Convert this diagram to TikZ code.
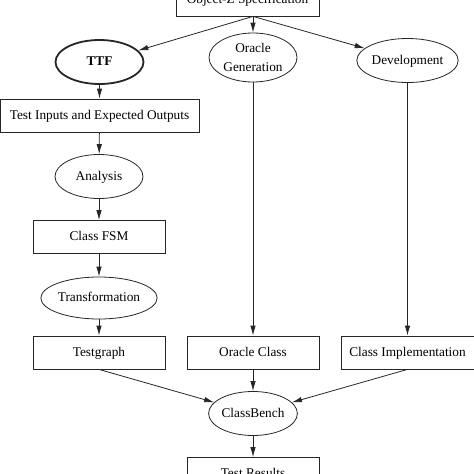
\documentclass[tikz,border=0pt]{standalone}
\usepackage{fontspec}
\setmainfont{Liberation Serif}
\usetikzlibrary{shapes.geometric, arrows.meta, positioning}

\begin{document}
\begin{tikzpicture}[x=1pt, y=-1pt,
        >={Latex[length=10pt, width=5.5pt]},
        every node/.style={font=\fontsize{13.3}{18.5}\selectfont, inner sep=0pt, draw=black!85, line width=0.8pt, text height=8.5pt, text depth=0.7pt},
        box/.style={rectangle, minimum width=132pt, minimum height=33pt},
        oval/.style={ellipse, minimum width=88pt, minimum height=44pt},
        link/.style={->, line width=0.8pt, draw=black!85}]
        % Marco de la imagen (recorta las cajas de arriba y de abajo)
        \useasboundingbox (0,0) rectangle (474,474);
        \clip (0,0) rectangle (474,474);

        % Especificacion de partida
        \node[box, minimum width=143pt] (spec) at (247.5,-0.5) {Object-Z Specification};

        % Tres ramas
        \node[oval, line width=1.8pt] (ttf) at (99.5,62) {\textbf{TTF}};
        \node[oval, minimum height=49pt, align=center, text height=, text depth=] (oracle) at (253,57.5) {Oracle\\Generation};
        \node[oval] (devel) at (407.5,60.5) {Development};

        % Rama de la izquierda
        \node[box, minimum width=199pt] (inputs) at (99.5,115.5) {Test Inputs and Expected Outputs};
        \node[oval] (analysis) at (99,176.5) {Analysis};
        \node[box] (fsm) at (99,237) {Class FSM};
        \node[oval, minimum width=100pt, minimum height=42pt] (transf) at (99,298) {Transformation};
        \node[box] (graph) at (99,352.5) {Testgraph};

        % Ramas del medio y de la derecha
        \node[box] (oclass) at (253,352.5) {Oracle Class};
        \node[box, minimum width=133pt] (impl) at (407.5,352.5) {Class Implementation};

        % Banco de pruebas y resultados
        \node[oval] (bench) at (253,413.5) {ClassBench};
        \node[box] (results) at (253,474) {Test Results};

        % Flechas
        \draw[link] (spec.south -| oracle) -- (ttf);
        \draw[link] (spec.south -| oracle) -- (oracle);
        \draw[link] (spec.south -| oracle) -- (devel);
        \draw[link] (ttf) -- (inputs);
        \draw[link] (inputs) -- (analysis);
        \draw[link] (analysis) -- (fsm);
        \draw[link] (fsm) -- (transf);
        \draw[link] (transf) -- (graph);
        \draw[link] (oracle) -- (oclass);
        \draw[link] (devel) -- (impl);
        \draw[link] (graph.south) -- (bench);
        \draw[link] (oclass) -- (bench);
        \draw[link] (impl.south) -- (bench);
        \draw[link] (bench) -- (results);
    \end{tikzpicture}
\end{document}
